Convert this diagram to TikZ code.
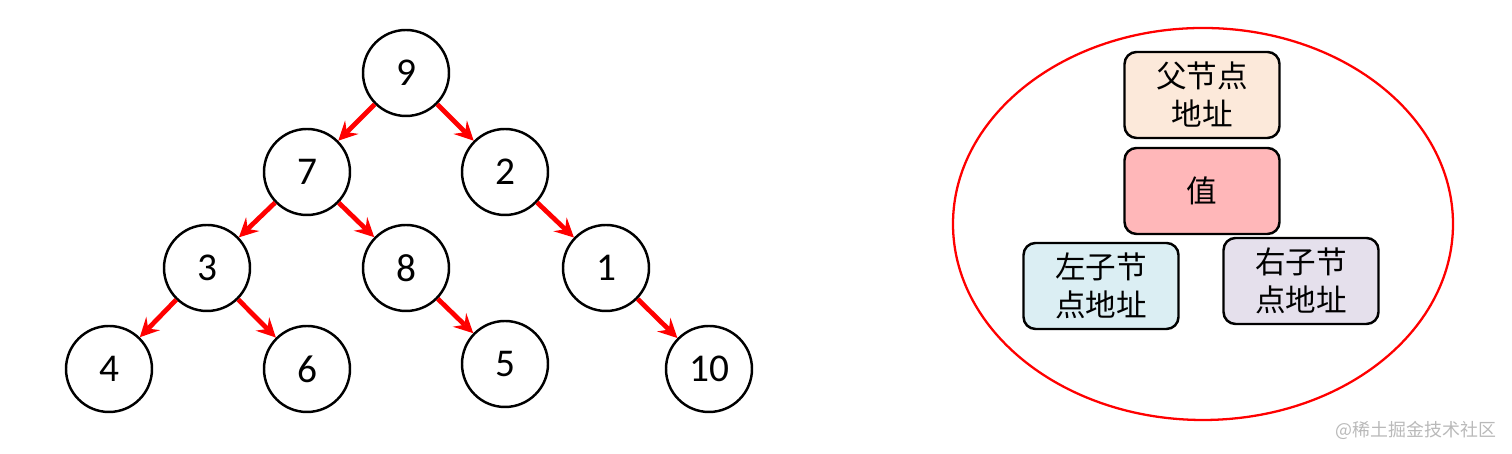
\documentclass[tikz,border=0pt]{standalone}
\usepackage{fontspec}
\setmainfont{Carlito}
\newfontfamily\cjk{Noto Sans CJK SC}
\usetikzlibrary{positioning,
  shapes
}

\definecolor{parentfill}{HTML}{FCE9DA}
\definecolor{valuefill}{HTML}{FFB7B9}
\definecolor{leftfill}{HTML}{DBEEF3}
\definecolor{rightfill}{HTML}{E5E0EC}

\begin{document}
\begin{tikzpicture}[
  tnode/.style={circle,draw,line width=0.7,minimum size=0.86cm,inner sep=0pt,
    font=\fontsize{11.2}{13}\selectfont},
  link/.style={->,>=stealth,red,line width=1.35},
  field/.style={draw,line width=0.7,rounded corners=0.12cm,minimum width=1.55cm,
    minimum height=0.86cm,inner sep=0pt,align=center,
    font=\cjk\fontsize{8.7}{10.8}\selectfont}
]
  \useasboundingbox (0, 0) rectangle (15.12, 4.54);

  \begin{scope}
    % root
    \node[tnode] (n9) at (4.06, 3.81) {9};
    % level 1
    \node[tnode] (n7) at (3.07, 2.82) {7};
    \node[tnode] (n2) at (5.05, 2.82) {2};
    % level 2
    \node[tnode] (n3) at (2.07, 1.86) {3};
    \node[tnode] (n8) at (4.06, 1.86) {8};
    \node[tnode] (n1) at (6.06, 1.86) {1};
    % level 3
    \node[tnode] (n4) at (1.09, 0.85) {4};
    \node[tnode] (n6) at (3.07, 0.85) {6};
    \node[tnode] (n5) at (5.05, 0.90) {5};
    \node[tnode] (n10) at (7.09, 0.85) {10};

    \draw[link] (n9) -- (n7);
    \draw[link] (n9) -- (n2);
    \draw[link] (n7) -- (n3);
    \draw[link] (n7) -- (n8);
    \draw[link] (n2) -- (n1);
    \draw[link] (n3) -- (n4);
    \draw[link] (n3) -- (n6);
    \draw[link] (n8) -- (n5);
    \draw[link] (n1) -- (n10);
  \end{scope}

  \begin{scope}[shift={(12.02, 2.30)}]
    \draw[red, line width=0.65] (0.01, 0) ellipse [x radius=2.5, y radius=1.96];
    \node[field, fill=parentfill] (parent) at (0, 1.29) {父节点\\地址};
    \node[field, fill=valuefill] (value) at (0, 0.33) {值};
    \node[field, fill=leftfill] (left) at (-1.01, -0.62) {左子节\\点地址};
    \node[field, fill=rightfill] (right) at (0.99, -0.57) {右子节\\点地址};
  \end{scope}

  \node[text=gray!55, font=\cjk\fontsize{5.1}{6}\selectfont] (mark) at (14.16, 0.24) {@稀土掘金技术社区};
\end{tikzpicture}
\end{document}
